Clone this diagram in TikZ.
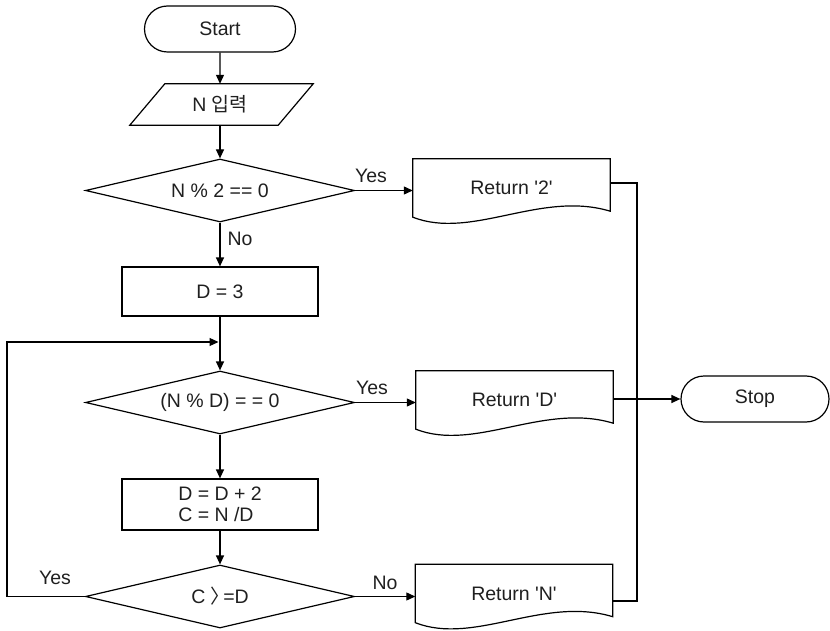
\documentclass[tikz,border=0pt]{standalone}
\usepackage{fontspec}
\setmainfont{Liberation Sans}
\newfontfamily\krfont{Noto Sans CJK KR}
\usetikzlibrary{shapes.geometric,shapes.misc,arrows.meta,calc}

% outline of a "document" symbol around a named (invisible) node
\newcommand{\docoutline}[1]{%
  \draw[wire] (#1.north west) -- (#1.north east) -- ($(#1.south east)+(0,-6)$)
    .. controls ($(#1.south west)+(128,-27)$) and ($(#1.south west)+(59,23)$) .. (#1.south west) -- cycle;}
\newcommand{\sq}{\textquotesingle}

\begin{document}
\begin{tikzpicture}[x=1pt,y=-1pt,
  every node/.style={font=\fontsize{19.5}{21}\selectfont, text=black!88},
  wire/.style={draw=black, line width=1.2pt},
  flowarrow/.style={wire, -{Triangle[length=9pt,width=8pt]}},
  terminal/.style={wire, rounded rectangle, minimum width=151pt, minimum height=46pt, inner sep=0pt},
  process/.style={wire, rectangle, minimum width=196pt, minimum height=49pt, inner sep=0pt},
  decision/.style={wire, diamond, aspect=4.25, minimum width=269pt, minimum height=63pt, inner sep=0pt},
  iobox/.style={rectangle, minimum width=148pt, minimum height=41pt, inner sep=0pt},
  docbox/.style={rectangle, minimum width=197pt, minimum height=58pt, inner sep=0pt},
  lbl/.style={inner sep=0pt},
]
\useasboundingbox (0,0) rectangle (830,631);

% main column
\node[terminal] (start) at (220,29) {Start};
\node[iobox] (input) at (220,104.5) {N {\krfont 입력}};
\draw[wire] ($(input.south west)+(-16,0)$) -- ($(input.south east)+(-16,0)$)
  -- ($(input.north east)+(19,0)$) -- ($(input.north west)+(19,0)$) -- cycle;
\node[decision] (test2) at (220,190.5) {N \% 2 == 0};
\node[process] (initd) at (220,291.5) {D = 3};
\node[decision] (testd) at (220,402.5) {(N \% D) = = 0};
\node[process, minimum height=51pt, align=left] (step) at (220,504.5) {D = D + 2\\C = N /D};
\node[decision] (testc) at (220,596.5) {C {\krfont 〉}\kern-7pt=D};

% results
\node[docbox] (ret2) at (511.5,188) {Return \sq2\sq};
\docoutline{ret2}
\node[docbox] (retd) at (514.5,400) {Return \sq D\sq};
\docoutline{retd}
\node[docbox] (retn) at (514,593.5) {Return \sq N\sq};
\docoutline{retn}
\node[terminal, minimum width=148pt] (stop) at (755,399) {Stop};

% connectors
\draw[flowarrow] (start) -- (input);
\draw[flowarrow] (input) -- (test2);
\draw[flowarrow] (test2) -- (initd);
\draw[flowarrow] (initd) -- (testd);
\draw[flowarrow] (testd) -- (step);
\draw[flowarrow] (step) -- (testc);
\draw[flowarrow] (test2.east) -- (ret2.west |- test2.east);
\draw[flowarrow] (testd.east) -- (retd.west |- testd.east);
\draw[flowarrow] (testc.east) -- (retn.west |- testc.east);

\coordinate (railtop) at (637,183);
\coordinate (railbot) at (637,601);
\draw[wire] (ret2.east |- railtop) -- (railtop) -- (railbot) -- (retn.east |- railbot);
\draw[flowarrow] (retd.east |- stop.west) -- (stop.west);

\coordinate (loopcorner) at (7,342);
\coordinate (merge) at (220,342);
\draw[flowarrow, shorten >=1.5pt] (testc.west) -| (loopcorner) -- (merge);

% branch labels
\node[lbl] (yes1) at (371,176) {Yes};
\node[lbl] (no1) at (240,239) {No};
\node[lbl] (yes2) at (372,388) {Yes};
\node[lbl] (no3) at (385,583) {No};
\node[lbl] (yes3) at (55,578) {Yes};
\end{tikzpicture}
\end{document}
